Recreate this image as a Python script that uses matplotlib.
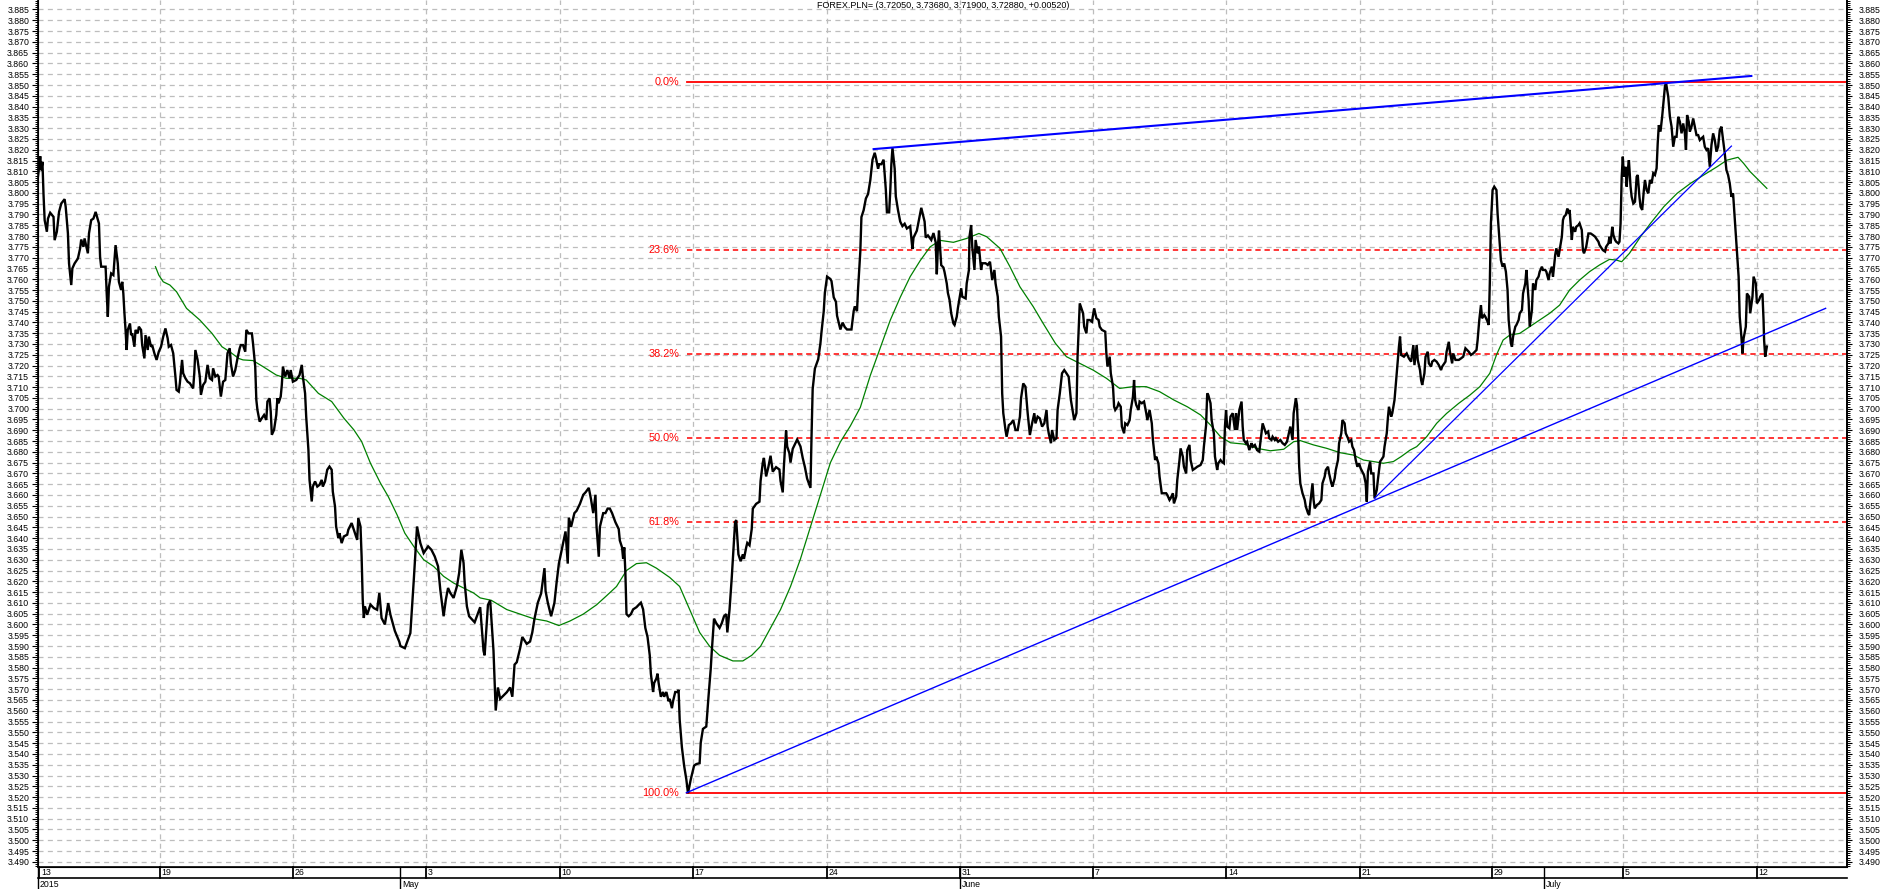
import numpy as np
import matplotlib
matplotlib.use("Agg")
import matplotlib.pyplot as plt
from matplotlib.transforms import blended_transform_factory
from matplotlib.ticker import MultipleLocator, FormatStrFormatter

plt.rcParams['font.family'] = ['Liberation Sans', 'DejaVu Sans']

# ---------------------------------------------------------------
# data : x is the hourly bar number since 13 Apr 2015, y is EUR/PLN
# ---------------------------------------------------------------
title = "FOREX.PLN= (3.72050, 3.73680, 3.71900, 3.72880, +0.00520)"

april_pts = [(0,3.8077),(1,3.8121),(2,3.8170),(3,3.8105),(4,3.8144),(5,3.7990),(6,3.7874),(8,3.7820),(9,3.7881),(11,3.7908),(14,3.7889),(15,3.7781),(17,3.7820),(19,3.7912),(21,3.7951),(24,3.7971),(25,3.7935),(27,3.7812),(28,3.7673),(30,3.7573),(31,3.7650),(33,3.7673),(36,3.7696),(38,3.7743),(39,3.7784),(41,3.7750),(42,3.7789),(45,3.7720),(46,3.7812),(48,3.7874),(50,3.7881),(52,3.7912),(55,3.7858),(56,3.7704),(57,3.7658),(61,3.7658),(62,3.7534),(63,3.7426),(64,3.7565),(66,3.7627),(68,3.7619),(69,3.7689),(70,3.7758),(72,3.7673),(73,3.7588),(75,3.7550),(76,3.7588),(77,3.7534),(78,3.7442),(79,3.7365),(80,3.7272),(81,3.7365),(83,3.7395),(84,3.7341),(85,3.7349),(87,3.7287),(88,3.7365),(90,3.7349),(91,3.7380),(93,3.7365),(94,3.7295),(96,3.7233),(97,3.7341),(99,3.7272),(100,3.7334),(102,3.7287),(103,3.7295),(105,3.7257),(107,3.7226),(109,3.7264),(111,3.7287),(113,3.7334),(115,3.7372),(117,3.7326),(118,3.7287),(120,3.7295),(122,3.7257),(124,3.7149),(125,3.7087),(127,3.7079),(128,3.7118),(130,3.7226),(131,3.7164),(133,3.7141),(135,3.7125),(137,3.7118),(140,3.7094),(141,3.7164),(142,3.7272),(144,3.7226),(146,3.7149),(147,3.7064),(149,3.7110),(151,3.7125),(153,3.7203),(155,3.7141),(157,3.7133),(158,3.7187),(160,3.7149),(162,3.7156),(163,3.7149),(165,3.7056),(167,3.7125),(169,3.7133),(171,3.7257),(173,3.7280),(174,3.7210),(176,3.7149),(178,3.7179),(180,3.7233),(182,3.7280),(183,3.7295),(185,3.7295),(187,3.7264),(188,3.7365),(190,3.7349),(193,3.7349),(194,3.7303),(196,3.7195),(197,3.7041),(198,3.6994),(200,3.6940),(202,3.6956),(204,3.6971),(206,3.6948),(207,3.7033),(209,3.7048),(210,3.6987),(211,3.6879),(213,3.6902),(215,3.6971),(216,3.7048),(217,3.7025),(219,3.7056),(220,3.7110),(221,3.7195),(223,3.7149),(225,3.7179),(227,3.7141),(228,3.7179),(230,3.7125),(233,3.7133),(236,3.7156),(238,3.7203),(239,3.7149),(241,3.7071),(242,3.6963),(244,3.6809),(245,3.6670),(247,3.6570),(248,3.6639),(250,3.6663),(252,3.6639),(254,3.6647),(256,3.6670),(257,3.6639),(259,3.6663),(261,3.6717),(263,3.6732),(265,3.6717),(266,3.6616),(268,3.6547),(269,3.6454),(271,3.6400),(272,3.6423),(274,3.6377),(276,3.6408),(279,3.6416),(280,3.6439),(283,3.6470),(285,3.6439),(288,3.6392),(289,3.6493),(291,3.6454),(292,3.6315),(293,3.6115),(294,3.6030),(295,3.6084),(297,3.6045),(300,3.6092),(303,3.6076),(306,3.6068),(308,3.6146),(310,3.6030),(313,3.6000),(316,3.6099),(318,3.6045),(322,3.5970),(326,3.5920)]

may_pts = [(327,3.5900),(331,3.5890),(336,3.5960),(339,3.6200),(342,3.6454),(345,3.6377),(348,3.6331),(352,3.6362),(355,3.6346),(358,3.6315),(361,3.6269),(363,3.6161),(366,3.6038),(368,3.6115),(370,3.6169),(372,3.6146),(375,3.6123),(378,3.6177),(380,3.6238),(382,3.6346),(384,3.6285),(385,3.6192),(387,3.6084),(389,3.6038),(394,3.6010),(399,3.6080),(402,3.5878),(403,3.5857),(406,3.6091),(408,3.6112),(411,3.5878),(413,3.5601),(415,3.5708),(417,3.5655),(423,3.5686),(426,3.5708),(428,3.5665),(430,3.5814),(432,3.5825),(435,3.5889),(437,3.5942),(441,3.5910),(444,3.5921),(446,3.5963),(448,3.6027),(451,3.6101),(454,3.6144),(457,3.6261),(458,3.6155),(460,3.6101),(463,3.6038),(466,3.6101),(468,3.6197),(470,3.6282),(473,3.6357),(476,3.6431),(478,3.6282),(479,3.6495),(481,3.6452),(484,3.6516),(486,3.6527),(489,3.6559),(492,3.6601),(494,3.6612),(497,3.6633),(499,3.6580),(501,3.6516),(503,3.6601),(504,3.6452),(506,3.6314),(507,3.6452),(510,3.6516),(512,3.6516),(514,3.6537),(516,3.6537),(518,3.6516),(521,3.6474),(524,3.6442),(525,3.6389),(527,3.6357),(528,3.6304),(529,3.6357),(530,3.6240),(531,3.6048),(533,3.6038),(535,3.6048),(537,3.6070),(540,3.6080),(542,3.6091),(544,3.6101),(546,3.6070),(548,3.5984),(550,3.5942),(552,3.5857),(553,3.5772),(555,3.5687),(556,3.5729),(558,3.5750),(559,3.5772),(560,3.5729),(562,3.5665),(564,3.5687),(565,3.5665),(567,3.5687),(569,3.5644),(570,3.5655),(572,3.5612),(573,3.5644),(575,3.5687),(577,3.5687),(578,3.5697),(579,3.5559),(581,3.5431),(583,3.5346),(585,3.5282),(586.5,3.5218),(589,3.5282),(590,3.5304),(592,3.5346),(594,3.5353),(597,3.5357),(598,3.5452),(600,3.5516),(603,3.5527),(605,3.5665),(607,3.5793),(608,3.5878),(610,3.6027),(612,3.6006),(615,3.5984),(617,3.6006),(619,3.6038),(621,3.6048),(622,3.5963),(624,3.6070),(625,3.6144),(626,3.6218),(627,3.6304),(629,3.6474),(630,3.6484),(632,3.6325),(634,3.6293),(636,3.6325),(637,3.6304),(639,3.6357),(640,3.6378),(642,3.6367),(644,3.6442),(645,3.6537),(648,3.6559),(651,3.6569),(652,3.6665),(654,3.6750),(655,3.6772),(657,3.6686),(659,3.6729),(661,3.6782),(663,3.6708),(666,3.6729),(669,3.6718),(670,3.6665),(672,3.6612),(673,3.6729),(675,3.6899),(676,3.6825),(678,3.6793),(679,3.6750),(681,3.6814),(684,3.6846),(685,3.6857),(688,3.6825),(690,3.6772),(692,3.6729),(694,3.6676),(697,3.6633),(698,3.6878),(699,3.7091),(701,3.7186),(704,3.7229),(706,3.7303),(707,3.7357),(709,3.7452),(710,3.7537),(712,3.7612),(715,3.7601),(716,3.7591),(718,3.7516),(720,3.7495),(721,3.7431),(723,3.7389),(724,3.7367),(726,3.7399),(728,3.7378),(730,3.7367),(734,3.7367),(736,3.7452),(737,3.7474),(739,3.7452),(740,3.7559),(742,3.7729),(743,3.7888),(745,3.7920),(747,3.7974),(749,3.7995),(751,3.8059),(753,3.8154),(755,3.8186),(756,3.8165),(758,3.8112),(759,3.8133),(761,3.8133),(763,3.8154),(765,3.8016),(766,3.7910),(768,3.7910),(769,3.8006),(770,3.8133),(771,3.8208),(773,3.8112),(774,3.7984),(776,3.7920),(778,3.7867),(780,3.7846),(782,3.7857),(784,3.7835),(787,3.7846),(789,3.7740),(790,3.7793),(793,3.7825),(795,3.7878),(797,3.7931),(800,3.7867),(801,3.7793),(803,3.7803),(806,3.7782),(808,3.7814),(810,3.7771),(811,3.7623),(812,3.7750),(813,3.7825),(815,3.7665),(817,3.7654),(818,3.7633),(820,3.7580),(821,3.7537),(822.5,3.7504),(824,3.7442),(826,3.7395),(827,3.7388),(829,3.7426),(830,3.7465)]

june_pts = [(833,3.7558),(834,3.7519),(837,3.7511),(838,3.7581),(840,3.7643),(840.5,3.7797),(842,3.7851),(843,3.7751),(845,3.7643),(846,3.7782),(848,3.7720),(849,3.7751),(851,3.7643),(852,3.7674),(855,3.7674),(857,3.7666),(859,3.7681),(861,3.7596),(863,3.7643),(864,3.7581),(866,3.7519),(867,3.7426),(869,3.7334),(870,3.7071),(871,3.6979),(873,3.6901),(874,3.6870),(876,3.6924),(878,3.6932),(880,3.6947),(882,3.6901),(884,3.6901),(886,3.6963),(887,3.7048),(889,3.7117),(891,3.7102),(893,3.6979),(895,3.6878),(897,3.6932),(899,3.6979),(900,3.6932),(902,3.6963),(904,3.6955),(906,3.6917),(908,3.6932),(910,3.6994),(911,3.6917),(912,3.6886),(914,3.6840),(915,3.6901),(917,3.6855),(919,3.6863),(920,3.6994),(922,3.7071),(924,3.7164),(926,3.7179),(928,3.7164),(930,3.7148),(932,3.7040),(934,3.6979),(935,3.6947),(937,3.6979),(938,3.7241),(940,3.7488),(941,3.7473),(943,3.7442),(944,3.7380),(946,3.7349),(947,3.7411),(949,3.7411),(951,3.7403),(953,3.7465),(955,3.7419),(957,3.7411),(958,3.7380),(960,3.7365),(963,3.7357),(964,3.7257),(965,3.7195),(967,3.7241),(968,3.7164),(970,3.7102),(971,3.7009),(972,3.6994),(974,3.7009),(975,3.7025),(977,3.7009),(978,3.6917),(980,3.6886),(981,3.6932),(983,3.6924),(985,3.6947),(986,3.6994),(988,3.7056),(989,3.7133),(990,3.7040),(991,3.7017),(993,3.6994),(994,3.7033),(996,3.7025),(998,3.7033),(1000,3.6979),(1001,3.6947),(1003,3.6994),(1005,3.6932),(1006,3.6855),(1008,3.6762),(1009,3.6778),(1011,3.6747),(1012,3.6685),(1014,3.6608),(1015,3.6608),(1018,3.6608),(1019,3.6600),(1021,3.6577),(1022,3.6585),(1024,3.6608),(1025,3.6561),(1027,3.6592),(1028,3.6670),(1030,3.6762),(1031,3.6816),(1033,3.6778),(1034,3.6731),(1036,3.6700),(1037,3.6808),(1039,3.6832),(1040,3.6762),(1042,3.6716),(1044,3.6723),(1046,3.6731),(1049,3.6739),(1051,3.6762),(1052,3.6824),(1054,3.6924),(1055,3.7071),(1056,3.7063),(1058,3.7025),(1059,3.6947),(1061,3.6886),(1062,3.6778),(1064,3.6716),(1065,3.6747),(1067,3.6762),(1068,3.6755),(1070,3.6747),(1071,3.6917),(1072,3.6994),(1073,3.6917),(1075,3.6909),(1076,3.6963),(1078,3.6979),(1080,3.6901),(1081,3.6979),(1082,3.6901),(1084,3.6994),(1086,3.7033),(1087,3.6917),(1088,3.6855),(1090,3.6840),(1091,3.6847),(1093,3.6808),(1095,3.6840),(1096,3.6824),(1098,3.6832),(1100,3.6808),(1102,3.6801),(1104,3.6886),(1105,3.6932),(1107,3.6901),(1108,3.6886),(1110,3.6894),(1111,3.6863),(1113,3.6855),(1114,3.6870),(1116,3.6855),(1117,3.6863),(1119,3.6847),(1121,3.6855),(1123,3.6840),(1125,3.6832),(1127,3.6847),(1128,3.6870),(1130,3.6917),(1131,3.6886),(1132,3.6855),(1133,3.6979),(1135,3.7048),(1136,3.7017),(1137,3.6886),(1138,3.6731),(1139,3.6654),(1141,3.6608),(1143,3.6577),(1144,3.6546),(1146,3.6515),(1147,3.6507),(1148,3.6561),(1150,3.6654),(1151,3.6577),(1152,3.6538),(1154,3.6554),(1156,3.6561),(1158,3.6577),(1159,3.6654),(1161,3.6685),(1162,3.6716),(1164,3.6731),(1165,3.6700),(1167,3.6654),(1168,3.6639),(1170,3.6677),(1171,3.6716),(1173,3.6762),(1174,3.6840),(1176,3.6886),(1177,3.6947),(1179,3.6932),(1180,3.6886),(1182,3.6863),(1183,3.6847),(1185,3.6855),(1186,3.6824),(1187.5,3.6808),(1189,3.6762),(1190.5,3.6731),(1192,3.6747),(1193.5,3.6723),(1195,3.6708),(1196.5,3.6692),(1198,3.6654),(1199,3.6569),(1200,3.6708),(1202,3.6755),(1203,3.6700),(1205,3.6700),(1206,3.6585),(1208,3.6623),(1209,3.6670),(1211,3.6755),(1212,3.6762),(1214,3.6778),(1215,3.6824),(1217,3.6886),(1218,3.6955),(1219,3.7009),(1221,3.6963),(1222,3.6979),(1224,3.7040),(1225,3.7102),(1227,3.7226),(1228,3.7287),(1229,3.7334)]

july_pts = [(1230,3.7249),(1232.5,3.7241),(1235,3.7256),(1237,3.7233),(1239,3.7218),(1241,3.7295),(1242,3.7202),(1244,3.7295),(1245,3.7226),(1247,3.7179),(1248,3.7133),(1249,3.7110),(1251,3.7164),(1252,3.7241),(1254,3.7264),(1255,3.7210),(1257,3.7195),(1258,3.7218),(1260,3.7226),(1262,3.7218),(1264,3.7202),(1266,3.7179),(1267,3.7195),(1270,3.7218),(1271,3.7264),(1273,3.7310),(1274,3.7264),(1276,3.7210),(1277,3.7256),(1279,3.7226),(1282,3.7226),(1284,3.7233),(1286,3.7241),(1288,3.7280),(1291,3.7264),(1293,3.7249),(1295,3.7256),(1298,3.7272),(1299,3.7318),(1300.5,3.7411),(1302,3.7480),(1303,3.7419),(1305,3.7434),(1306,3.7426),(1308,3.7403),(1309,3.7388),(1310,3.7581),(1311,3.7859),(1312.5,3.8013),(1314,3.8029),(1316,3.8013),(1317,3.7905),(1318.5,3.7797),(1320,3.7689),(1321.5,3.7658),(1323,3.7673),(1324.5,3.7635),(1326,3.7550),(1327,3.7411),(1329,3.7303),(1330,3.7287),(1331,3.7334),(1333,3.7380),(1334,3.7388),(1336,3.7411),(1337,3.7442),(1339,3.7457),(1340,3.7534),(1342,3.7581),(1343,3.7643),(1345,3.7504),(1346,3.7380),(1348,3.7457),(1349,3.7581),(1351,3.7550),(1352,3.7596),(1354,3.7612),(1355,3.7635),(1357,3.7658),(1358,3.7643),(1360,3.7643),(1361,3.7635),(1363,3.7596),(1364,3.7627),(1366,3.7658),(1367,3.7612),(1369,3.7712),(1370,3.7743),(1372,3.7704),(1373,3.7735),(1375,3.7797),(1376,3.7874),(1377,3.7890),(1378.5,3.7898),(1380,3.7928),(1381,3.7905),(1382,3.7921),(1384,3.7782),(1385,3.7843),(1387,3.7820),(1388,3.7843),(1390,3.7851),(1391,3.7859),(1393,3.7828),(1394,3.7735),(1395,3.7720),(1397,3.7751),(1398,3.7782),(1399,3.7812),(1401,3.7812),(1403,3.7805),(1405,3.7797),(1406,3.7789),(1408,3.7774),(1409,3.7758),(1411,3.7743),(1412,3.7735),(1414,3.7728),(1415,3.7751),(1417,3.7766),(1418,3.7797),(1419,3.7766),(1420.5,3.7843),(1421.5,3.7805),(1423,3.7782),(1424,3.7774),(1426,3.7766),(1427,3.7774),(1428,3.7859),(1429,3.8075),(1430,3.8168),(1431,3.8075),(1432.5,3.8121),(1433.5,3.8029),(1434.5,3.8106),(1435.5,3.8152),(1437,3.8029),(1438,3.7982),(1439.5,3.7951),(1441,3.7959),(1442.5,3.8075),(1443.5,3.8083),(1445,3.7982),(1446,3.7936),(1447.5,3.7921),(1449,3.8013),(1450,3.8060),(1451.5,3.8013),(1453,3.7998),(1454.5,3.8060),(1456,3.8044),(1457.5,3.8091),(1459,3.8083),(1460.5,3.8114),(1461.5,3.8230),(1462.5,3.8314),(1464,3.8284),(1465.5,3.8353),(1467,3.8438),(1468,3.8492),(1469,3.8513),(1470,3.8477),(1471,3.8446),(1472.5,3.8353),(1474,3.8307),(1475.5,3.8214),(1477,3.8260),(1478.5,3.8260),(1480,3.8353),(1481.5,3.8330),(1483,3.8276),(1484.5,3.8322),(1486,3.8276),(1487,3.8199),(1488,3.8361),(1489.5,3.8330),(1490.5,3.8284),(1492,3.8307),(1493.5,3.8345),(1495,3.8307),(1496.5,3.8268),(1498,3.8268),(1499.5,3.8245),(1501,3.8253),(1502.5,3.8260),(1504,3.8214),(1505.5,3.8199),(1507,3.8207),(1508.5,3.8121),(1510,3.8222),(1511.5,3.8276),(1513,3.8245),(1514.5,3.8191),(1516,3.8214),(1517.5,3.8291),(1519,3.8307),(1520.5,3.8245),(1522,3.8183),(1523.5,3.8106),(1525,3.8083),(1526.5,3.8044),(1528,3.7982),(1529.5,3.7998),(1530.5,3.7921),(1532,3.7812),(1533,3.7735),(1534.5,3.7612),(1535.5,3.7426),(1537,3.7334),(1538,3.7256),(1539,3.7326),(1541,3.7380),(1542,3.7534),(1544,3.7519),(1545,3.7442),(1547,3.7519),(1548,3.7612),(1550,3.7581),(1551,3.7488),(1553,3.7504),(1554,3.7519),(1556,3.7534),(1557,3.7411),(1557.5,3.7318),(1558.5,3.7241),(1560,3.7288)]

# 100 bar moving average (green)
ma_pts = [(106,3.7658),(109,3.7619),(113,3.7588),(119,3.7573),(125,3.7542),(134,3.7465),(146,3.7411),(157,3.7349),(166,3.7287),(173,3.7264),(181,3.7233),(185,3.7226),(194,3.7223),(203,3.7195),(215,3.7156),(224,3.7141),(236,3.7141),(242,3.7133),(253,3.7071),(265,3.7033),(276,3.6956),(285,3.6902),(292,3.6848),(300,3.6747),(309,3.6655),(316,3.6593),(324,3.6508),(331,3.6423),(339,3.6362),(348,3.6300),(357,3.6269),(366,3.6223),(375,3.6192),(384,3.6169),(393,3.6146),(399,3.6123),(409,3.6112),(423,3.6069),(435,3.6048),(447,3.6027),(459,3.6016),(470,3.5995),(480,3.6016),(492,3.6048),(504,3.6091),(513,3.6133),(522,3.6176),(531,3.6250),(540,3.6282),(549,3.6286),(558,3.6261),(570,3.6218),(579,3.6176),(588,3.6069),(597,3.5963),(606,3.5899),(615,3.5857),(627,3.5831),(636,3.5831),(644,3.5857),(652,3.5899),(661,3.5984),(670,3.6069),(679,3.6176),(688,3.6304),(697,3.6452),(706,3.6601),(715,3.6750),(724,3.6846),(733,3.6920),(742,3.7006),(751,3.7154),(760,3.7282),(769,3.7410),(778,3.7516),(787,3.7612),(796,3.7686),(805,3.7750),(814,3.7780),(826,3.7771),(838,3.7789),(849,3.7812),(856,3.7797),(868,3.7743),(877,3.7658),(886,3.7565),(898,3.7473),(907,3.7395),(918,3.7303),(928,3.7241),(940,3.7210),(952,3.7179),(964,3.7141),(976,3.7094),(988,3.7102),(1000,3.7102),(1012,3.7079),(1025,3.7040),(1037,3.7009),(1049,3.6971),(1058,3.6924),(1067,3.6870),(1076,3.6842),(1088,3.6836),(1100,3.6816),(1112,3.6805),(1124,3.6812),(1133,3.6847),(1139,3.6852),(1151,3.6832),(1163,3.6816),(1175,3.6796),(1187,3.6785),(1196,3.6762),(1205,3.6755),(1214,3.6747),(1223,3.6755),(1230,3.6778),(1238,3.6808),(1244,3.6824),(1253,3.6870),(1262,3.6932),(1271,3.6978),(1282,3.7025),(1292,3.7063),(1301,3.7102),(1310,3.7164),(1316,3.7249),(1322,3.7318),(1328,3.7341),(1337,3.7349),(1346,3.7380),(1355,3.7411),(1364,3.7442),(1373,3.7480),(1382,3.7550),(1391,3.7596),(1400,3.7635),(1409,3.7666),(1418,3.7692),(1424,3.7689),(1429,3.7681),(1436,3.7720),(1446,3.7797),(1455,3.7859),(1467,3.7936),(1479,3.7998),(1491,3.8044),(1503,3.8083),(1515,3.8121),(1524,3.8152),(1530,3.8160),(1534,3.8165),(1539,3.8137),(1545,3.8098),(1551,3.8067),(1557,3.8036),(1560,3.8021)]

# hand drawn trend lines (start, end)
trend_upper = [(754, 3.8203), (1546, 3.8542)]
trend_support = [(585, 3.5220), (1613, 3.7465)]
trend_steep = [(1206, 3.6585), (1528, 3.8217)]

# fibonacci retracement
fib_high = 3.8513
fib_low = 3.5218
fib_start = 586
fib_levels = [0.0, 23.6, 38.2, 50.0, 61.8, 100.0]

# time axis
week_bars = [1, 110, 230, 350, 471, 591, 712, 832, 952, 1072, 1193, 1312, 1430, 1551]
week_labels = ["13", "19", "26", "3", "10", "17", "24", "31", "7", "14", "21", "29", "5", "12"]
month_bars = [0, 327, 832, 1359]
month_labels = ["2015", "May", "June", "July"]

#####################################################################################

W, H = 1883, 889
xmax = 1632.3
ymin, ymax = 3.4876, 3.8894

fig = plt.figure(figsize=(W/100., H/100.), dpi=100)
ax = fig.add_axes([38./W, 1-867./H, (1847.-38.)/W, 867./H])
ax.set_xlim(0, xmax)
ax.set_ylim(ymin, ymax)

# grid
gridcol = '#bdbdbd'
ax.yaxis.set_major_locator(MultipleLocator(0.005))
ax.yaxis.set_minor_locator(MultipleLocator(0.001))
ax.yaxis.set_major_formatter(FormatStrFormatter('%.3f'))
ax.grid(axis='y', which='major', color=gridcol, lw=0.9, ls=(0, (4, 3.5)), zorder=0)
for b in week_bars[1:]:
    ax.axvline(b, color=gridcol, lw=0.9, ls=(0, (4, 3.5)), zorder=0)
ax.set_axisbelow(True)

# fibonacci
rng = fib_high - fib_low
for lvl in fib_levels:
    y = fib_high - rng*lvl/100.
    if lvl in (0.0, 100.0):
        ax.plot([fib_start, xmax], [y, y], color='#ff0000', lw=1.3, zorder=2)
    else:
        ax.plot([fib_start, xmax], [y, y], color='#ff0000', lw=1.1, ls=(0, (3.5, 2.5)), zorder=2)
    ax.text(fib_start - 7.5, y, "%.1f%%" % lvl, color='#ff0000', fontsize=7.8,
            ha='right', va='center', zorder=3)

# moving average
ma = np.array(ma_pts)
ax.plot(ma[:, 0], ma[:, 1], color='#008000', lw=0.9, zorder=3)

# price
price = np.array(april_pts + may_pts + june_pts + july_pts)
ax.plot(price[:, 0], price[:, 1], color='black', lw=1.7, zorder=4, solid_joinstyle='miter')

# trend lines
for tl, w in ((trend_upper, 1.5), (trend_support, 1.0), (trend_steep, 0.9)):
    tl = np.array(tl)
    ax.plot(tl[:, 0], tl[:, 1], color='#0000ff', lw=w, zorder=5)

# y axes on both sides
ax.set_xticks([])
ax.spines['top'].set_visible(False)
for s in ('left', 'right', 'bottom'):
    ax.spines[s].set_linewidth(1.2)
ax.tick_params(axis='y', which='major', length=4.2, width=0.8, labelsize=6.3, pad=2.2, direction='out')
ax.tick_params(axis='y', which='minor', length=2.0, width=0.7, direction='out')

ax2 = ax.twinx()
ax2.set_ylim(ymin, ymax)
ax2.yaxis.set_major_locator(MultipleLocator(0.005))
ax2.yaxis.set_minor_locator(MultipleLocator(0.001))
ax2.yaxis.set_major_formatter(FormatStrFormatter('%.3f'))
ax2.tick_params(axis='y', which='major', length=3.6, width=0.8, labelsize=6.3, pad=5.0, direction='out')
ax2.tick_params(axis='y', which='minor', length=1.8, width=0.7, direction='out')
ax2.spines['top'].set_visible(False)
ax2.spines['right'].set_linewidth(1.2)
ax2.patch.set_visible(False)

# date rows below the chart
trans = blended_transform_factory(ax.transData, fig.transFigure)
y0 = 1 - 867./H
y1 = 1 - 878./H
y2 = 0.0
ax.plot([0, xmax], [y1, y1], transform=trans, color='black', lw=1.2, clip_on=False)
for b, lab in zip(week_bars, week_labels):
    ax.plot([b, b], [y0, y1], transform=trans, color='black', lw=1.3, clip_on=False)
    ax.text(b + 1.6, (y0 + y1)/2., lab, transform=trans, fontsize=6.3,
            ha='left', va='center')
for b, lab in zip(month_bars, month_labels):
    ax.plot([b, b], [y0, y2], transform=trans, color='black', lw=1.0, clip_on=False)
    ax.text(b + 1.6, (y1 + y2)/2. - 0.001, lab, transform=trans, fontsize=6.3,
            ha='left', va='center')

fig.text(943./W, 1 - 6./H, title, fontsize=6.5, ha='center', va='center')

fig.savefig("out.png", dpi=100)
